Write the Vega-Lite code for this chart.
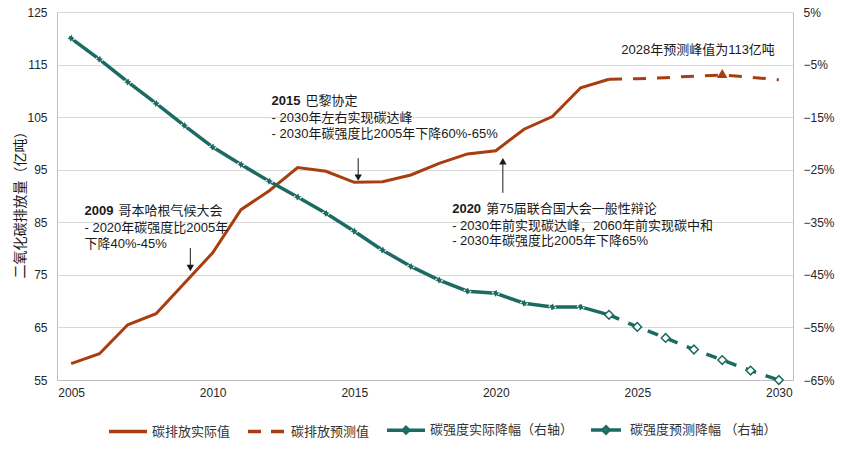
{
  "$schema": "https://vega.github.io/schema/vega-lite/v6.json",
  "width": 736,
  "height": 368,
  "autosize": {"type": "none"},
  "padding": {"left": 57, "top": 12, "right": 52, "bottom": 72},
  "config": {
    "font": "Liberation Sans, Noto Sans CJK SC, sans-serif",
    "view": {"stroke": null},
    "axis": {"labelFontSize": 12, "labelColor": "#262626", "ticks": false, "domainColor": "#bfbfbf", "labelPadding": 10}
  },
  "datasets": {
    "emis": [
      {"year": 2005, "value": 58.1, "series": "碳排放实际值"},
      {"year": 2006, "value": 60.0, "series": "碳排放实际值"},
      {"year": 2007, "value": 65.5, "series": "碳排放实际值"},
      {"year": 2008, "value": 67.6, "series": "碳排放实际值"},
      {"year": 2009, "value": 73.4, "series": "碳排放实际值"},
      {"year": 2010, "value": 79.2, "series": "碳排放实际值"},
      {"year": 2011, "value": 87.4, "series": "碳排放实际值"},
      {"year": 2012, "value": 91.0, "series": "碳排放实际值"},
      {"year": 2013, "value": 95.4, "series": "碳排放实际值"},
      {"year": 2014, "value": 94.7, "series": "碳排放实际值"},
      {"year": 2015, "value": 92.6, "series": "碳排放实际值"},
      {"year": 2016, "value": 92.7, "series": "碳排放实际值"},
      {"year": 2017, "value": 94.0, "series": "碳排放实际值"},
      {"year": 2018, "value": 96.2, "series": "碳排放实际值"},
      {"year": 2019, "value": 98.0, "series": "碳排放实际值"},
      {"year": 2020, "value": 98.6, "series": "碳排放实际值"},
      {"year": 2021, "value": 102.7, "series": "碳排放实际值"},
      {"year": 2022, "value": 105.1, "series": "碳排放实际值"},
      {"year": 2023, "value": 110.6, "series": "碳排放实际值"},
      {"year": 2024, "value": 112.2, "series": "碳排放实际值"},
      {"year": 2024, "value": 112.2, "series": "碳排放预测值"},
      {"year": 2025, "value": 112.3, "series": "碳排放预测值"},
      {"year": 2026, "value": 112.5, "series": "碳排放预测值"},
      {"year": 2027, "value": 112.8, "series": "碳排放预测值"},
      {"year": 2028, "value": 113.0, "series": "碳排放预测值"},
      {"year": 2029, "value": 112.6, "series": "碳排放预测值"},
      {"year": 2030, "value": 112.1, "series": "碳排放预测值"}
    ],
    "intensity": [
      {"year": 2005, "pct": 0, "series": "碳强度实际降幅（右轴）"},
      {"year": 2006, "pct": -4.0, "series": "碳强度实际降幅（右轴）"},
      {"year": 2007, "pct": -8.3, "series": "碳强度实际降幅（右轴）"},
      {"year": 2008, "pct": -12.4, "series": "碳强度实际降幅（右轴）"},
      {"year": 2009, "pct": -16.6, "series": "碳强度实际降幅（右轴）"},
      {"year": 2010, "pct": -20.7, "series": "碳强度实际降幅（右轴）"},
      {"year": 2011, "pct": -24.0, "series": "碳强度实际降幅（右轴）"},
      {"year": 2012, "pct": -27.2, "series": "碳强度实际降幅（右轴）"},
      {"year": 2013, "pct": -30.2, "series": "碳强度实际降幅（右轴）"},
      {"year": 2014, "pct": -33.3, "series": "碳强度实际降幅（右轴）"},
      {"year": 2015, "pct": -36.7, "series": "碳强度实际降幅（右轴）"},
      {"year": 2016, "pct": -40.3, "series": "碳强度实际降幅（右轴）"},
      {"year": 2017, "pct": -43.4, "series": "碳强度实际降幅（右轴）"},
      {"year": 2018, "pct": -46.0, "series": "碳强度实际降幅（右轴）"},
      {"year": 2019, "pct": -48.1, "series": "碳强度实际降幅（右轴）"},
      {"year": 2020, "pct": -48.5, "series": "碳强度实际降幅（右轴）"},
      {"year": 2021, "pct": -50.4, "series": "碳强度实际降幅（右轴）"},
      {"year": 2022, "pct": -51.1, "series": "碳强度实际降幅（右轴）"},
      {"year": 2023, "pct": -51.1, "series": "碳强度实际降幅（右轴）"},
      {"year": 2024, "pct": -52.6, "series": "碳强度实际降幅（右轴）"},
      {"year": 2024, "pct": -52.6, "series": "碳强度预测降幅 （右轴）"},
      {"year": 2025, "pct": -54.9, "series": "碳强度预测降幅 （右轴）"},
      {"year": 2026, "pct": -57.0, "series": "碳强度预测降幅 （右轴）"},
      {"year": 2027, "pct": -59.2, "series": "碳强度预测降幅 （右轴）"},
      {"year": 2028, "pct": -61.2, "series": "碳强度预测降幅 （右轴）"},
      {"year": 2029, "pct": -63.2, "series": "碳强度预测降幅 （右轴）"},
      {"year": 2030, "pct": -65.0, "series": "碳强度预测降幅 （右轴）"}
    ],
    "notes": [
      {"year": 2005.47, "value": 87.15, "text": "2009", "part": "bold"},
      {"year": 2005.47, "value": 87.15, "text": "哥本哈根气候大会", "part": "head"},
      {"year": 2005.47, "value": 83.95, "text": "- 2020年碳强度比2005年", "part": "body"},
      {"year": 2005.47, "value": 80.85, "text": "下降40%-45%", "part": "body"},
      {"year": 2012.08, "value": 108.05, "text": "2015", "part": "bold"},
      {"year": 2012.08, "value": 108.05, "text": "巴黎协定", "part": "head"},
      {"year": 2012.08, "value": 104.85, "text": "- 2030年左右实现碳达峰", "part": "body"},
      {"year": 2012.08, "value": 101.8, "text": "- 2030年碳强度比2005年下降60%-65%", "part": "body"},
      {"year": 2018.46, "value": 87.5, "text": "2020", "part": "bold"},
      {"year": 2018.46, "value": 87.5, "text": "第75届联合国大会一般性辩论", "part": "head"},
      {"year": 2018.46, "value": 84.3, "text": "- 2030年前实现碳达峰，2060年前实现碳中和", "part": "body"},
      {"year": 2018.46, "value": 81.45, "text": "- 2030年碳强度比2005年下降65%", "part": "body"}
    ],
    "arrows": [
      {"year": 2009.21, "value": 80.1, "tip": 76.3, "dir": "down"},
      {"year": 2015.14, "value": 97.2, "tip": 93.5, "dir": "down"},
      {"year": 2020.25, "value": 90.6, "tip": 96.6, "dir": "up"}
    ]
  },
  "encoding": {
    "x": {
      "field": "year",
      "type": "quantitative",
      "scale": {"domain": [2004.5, 2030.5], "nice": false, "zero": false},
      "axis": {"values": [2005, 2010, 2015, 2020, 2025, 2030], "format": "d", "title": null, "grid": false, "labelPadding": 7}
    }
  },
  "layer": [
    {
      "encoding": {
        "y": {
          "field": "value",
          "type": "quantitative",
          "scale": {"domain": [55, 125], "nice": false, "zero": false},
          "axis": {
            "values": [55, 65, 75, 85, 95, 105, 115, 125],
            "title": "二氧化碳排放量（亿吨）",
            "titleFontSize": 14,
            "titleFontWeight": "normal",
            "titleColor": "#1a1a1a",
            "titleX": -37,
            "titleY": 189,
            "titleAlign": "center",
            "titleBaseline": "middle",
            "titleAngle": 270,
            "grid": true,
            "gridColor": "#d9d9d9"
          }
        }
      },
      "layer": [
        {
          "data": {"name": "emis"},
          "transform": [{"filter": "datum.series == '碳排放实际值'"}],
          "mark": {"type": "line", "strokeWidth": 3},
          "encoding": {
            "color": {
              "field": "series",
              "type": "nominal",
              "scale": {
                "domain": ["碳排放实际值", "碳排放预测值", "碳强度实际降幅（右轴）", "碳强度预测降幅 （右轴）"],
                "range": ["#a83e10", "#a83e10", "#1b6b63", "#1b6b63"]
              },
              "legend": {
                "orient": "none",
                "legendX": 50,
                "legendY": 397,
                "direction": "horizontal",
                "title": null,
                "symbolType": "stroke",
                "symbolSize": 1444,
                "symbolStrokeWidth": 3.5,
                "labelFontSize": 13,
                "labelColor": "#333333",
                "labelOffset": 3,
                "columnPadding": 10,
                "encode": {
                  "symbols": {
                    "update": {
                      "shape": {"signal": "datum.value == '碳强度实际降幅（右轴）' ? 'M-1,0H-0.14M0.14,0H1M-0.14,0L0,-0.14L0.14,0L0,0.14Z' : datum.value == '碳强度预测降幅 （右轴）' ? 'M-1,0H-0.2M0.2,0H1M-0.2,0L0,-0.2L0.2,0L0,0.2Z' : 'stroke'"},
                      "strokeDash": {"signal": "datum.value == '碳排放预测值' ? [13, 10] : [1, 0]"},
                      "size": {"signal": "datum.value == '碳强度预测降幅 （右轴）' ? 900 : 1444"}
                    }
                  }
                }
              }
            }
          }
        },
        {
          "data": {"name": "emis"},
          "transform": [{"filter": "datum.series == '碳排放预测值'"}],
          "mark": {"type": "line", "strokeWidth": 3, "strokeDash": [13, 11]},
          "encoding": {"color": {"field": "series", "type": "nominal"}}
        },
        {
          "data": {"values": [{"year": 2028, "value": 113.3}]},
          "mark": {"type": "point", "shape": "triangle-up", "filled": true, "color": "#a83e10", "size": 110, "opacity": 1}
        },
        {
          "data": {"name": "arrows"},
          "mark": {"type": "rule", "color": "#1a1a1a", "strokeWidth": 1},
          "encoding": {"y2": {"field": "tip"}}
        },
        {
          "data": {"name": "arrows"},
          "transform": [{"filter": "datum.dir == 'down'"}],
          "mark": {"type": "point", "shape": "triangle-down", "filled": true, "color": "#1a1a1a", "size": 55, "opacity": 1},
          "encoding": {"y": {"field": "tip", "type": "quantitative"}}
        },
        {
          "data": {"name": "arrows"},
          "transform": [{"filter": "datum.dir == 'up'"}],
          "mark": {"type": "point", "shape": "triangle-up", "filled": true, "color": "#1a1a1a", "size": 55, "opacity": 1},
          "encoding": {"y": {"field": "tip", "type": "quantitative"}}
        },
        {
          "data": {"name": "notes"},
          "transform": [{"filter": "datum.part == 'bold'"}],
          "mark": {"type": "text", "align": "left", "baseline": "middle", "fontSize": 13, "fontWeight": "bold", "color": "#1a1a1a"},
          "encoding": {"text": {"field": "text"}}
        },
        {
          "data": {"name": "notes"},
          "transform": [{"filter": "datum.part == 'head'"}],
          "mark": {"type": "text", "align": "left", "baseline": "middle", "fontSize": 13, "dx": 34, "color": "#1a1a1a"},
          "encoding": {"text": {"field": "text"}}
        },
        {
          "data": {"name": "notes"},
          "transform": [{"filter": "datum.part == 'body'"}],
          "mark": {"type": "text", "align": "left", "baseline": "middle", "fontSize": 13, "color": "#1a1a1a"},
          "encoding": {"text": {"field": "text"}}
        },
        {
          "data": {"values": [{"year": 2029.86, "value": 117.8, "text": "2028年预测峰值为113亿吨"}]},
          "mark": {"type": "text", "align": "right", "baseline": "middle", "fontSize": 13, "color": "#1a1a1a"},
          "encoding": {"text": {"field": "text"}}
        }
      ]
    },
    {
      "data": {"name": "intensity"},
      "encoding": {
        "y": {
          "field": "pct",
          "type": "quantitative",
          "scale": {"domain": [-65, 5], "nice": false, "zero": false},
          "axis": {
            "orient": "right",
            "values": [-65, -55, -45, -35, -25, -15, -5, 5],
            "labelExpr": "(datum.value < 0 ? '−' : '') + abs(datum.value) + '%'",
            "title": null,
            "grid": false
          }
        }
      },
      "layer": [
        {
          "transform": [{"filter": "datum.series == '碳强度实际降幅（右轴）'"}],
          "mark": {"type": "line", "strokeWidth": 3.5},
          "encoding": {"color": {"field": "series", "type": "nominal"}}
        },
        {
          "transform": [{"filter": "datum.series == '碳强度预测降幅 （右轴）'"}],
          "mark": {"type": "line", "strokeWidth": 3.5, "strokeDash": [11, 10]},
          "encoding": {"color": {"field": "series", "type": "nominal"}}
        },
        {
          "transform": [{"filter": "datum.series == '碳强度实际降幅（右轴）' && datum.year < 2024"}],
          "mark": {"type": "point", "shape": "diamond", "filled": true, "fill": "#1b6b63", "stroke": "#ffffff", "strokeWidth": 1.2, "strokeDash": [2, 1.5], "size": 55, "opacity": 1}
        },
        {
          "transform": [{"filter": "datum.series == '碳强度预测降幅 （右轴）'"}],
          "mark": {"type": "point", "shape": "diamond", "filled": true, "fill": "#ffffff", "stroke": "#1b6b63", "strokeWidth": 1.5, "size": 75, "opacity": 1}
        }
      ]
    }
  ],
  "resolve": {"scale": {"y": "independent"}}
}
